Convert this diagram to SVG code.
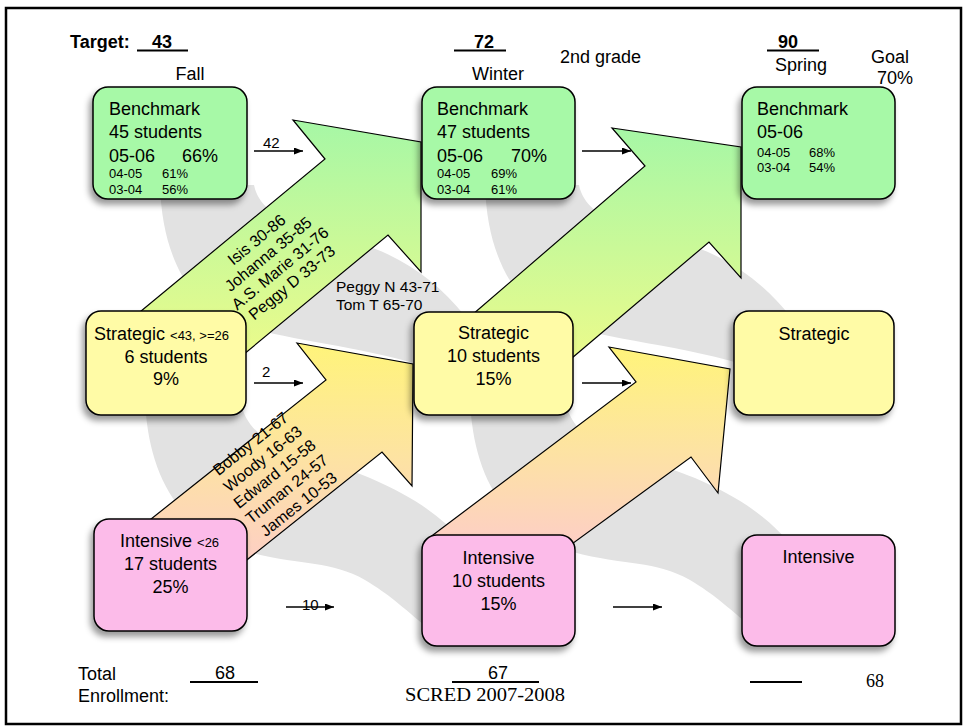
<svg xmlns="http://www.w3.org/2000/svg" width="966" height="727" viewBox="0 0 966 727">
  <style>
    text { font-family: "Liberation Sans", Arial, sans-serif; fill: #000; }
    .serif { font-family: "Liberation Serif", "Times New Roman", serif; }
    .t18 { font-size: 18px; }
    .t16 { font-size: 16px; }
    .t15 { font-size: 15px; }
    .t13 { font-size: 13px; }
    .b { font-weight: bold; }
    .mid { text-anchor: middle; }
    .box { stroke: #000; stroke-width: 1.5; filter: url(#shadow); }
    .green { fill: #a7f9a7; }
    .yellow { fill: #fffba6; }
    .pink { fill: #fcbbe9; }
    .band { fill: #e2e2e2; stroke: none; }
    .big { stroke: #000; stroke-width: 1.2; stroke-linejoin: miter; }
    .rule { stroke: #000; stroke-width: 2; }
    .flow { stroke: #000; stroke-width: 1.3; fill: none; marker-end: url(#head); }
  </style>
  <defs>
    <filter id="shadow" x="-15%" y="-15%" width="130%" height="140%">
      <feDropShadow dx="-3" dy="5" stdDeviation="3" flood-color="#000" flood-opacity="0.4"/>
    </filter>
    <linearGradient id="gradGreen" x1="0" y1="0" x2="0" y2="1">
      <stop offset="0" stop-color="#a6f7a6"/>
      <stop offset="1" stop-color="#eefb8a"/>
    </linearGradient>
    <linearGradient id="gradWarm" x1="0" y1="0" x2="0" y2="1">
      <stop offset="0" stop-color="#fff47a"/>
      <stop offset="0.5" stop-color="#fde3a2"/>
      <stop offset="1" stop-color="#fdcdc8"/>
    </linearGradient>
    <marker id="head" markerUnits="userSpaceOnUse" viewBox="0 0 9 7" refX="9" refY="3.5" markerWidth="9" markerHeight="7" orient="auto">
      <path d="M0,0 L9,3.5 L0,7 Z" fill="#000"/>
    </marker>
    <!-- curved gray bands: one level down to the next column -->
    <path id="bandUpper" d="M160,185 C162,250 185,300 230,322 C280,340 360,345 430,368 L470,368 L465,316 C440,285 410,262 373,248 C320,228 262,225 254,185 Z"/>
    <path id="bandLower" d="M145,400 C148,470 175,530 248,552 C300,566 330,560 365,580 C390,595 400,605 430,630 L470,630 L462,540 C440,515 410,495 370,478 C300,450 250,450 240,400 Z"/>
  </defs>

  <rect x="0" y="0" width="966" height="727" fill="#fff"/>
  <rect x="6" y="8" width="955" height="716" fill="none" stroke="#000" stroke-width="2.5"/>

  <g id="connectors">
    <g id="bands">
      <use href="#bandUpper" class="band"/>
      <use href="#bandUpper" class="band" transform="translate(325,0)"/>
      <use href="#bandLower" class="band"/>
      <use href="#bandLower" class="band" transform="translate(325,0)"/>
    </g>
    <g id="big-arrows">
      <polygon class="big" fill="url(#gradGreen)" points="129,321 325,159 293,120 421,142 421,272 388,235 232,364"/>
      <polygon class="big" fill="url(#gradGreen)" points="465,321 645,166 612,128 741,147 741,278 709,242 559,369"/>
      <polygon class="big" fill="url(#gradWarm)" points="141,527 326,380 297,343 413,364 412,486 382,452 233,571"/>
      <polygon class="big" fill="url(#gradWarm)" points="425,541 636,382 609,347 730,369 718,493 691,457 561,552"/>
    </g>
    <g id="small-arrows">
      <line class="flow" x1="254" y1="151" x2="303" y2="151"/>
      <line class="flow" x1="582" y1="151" x2="631" y2="151"/>
      <line class="flow" x1="254" y1="383" x2="303" y2="383"/>
      <line class="flow" x1="582" y1="383" x2="631" y2="383"/>
      <line class="flow" x1="286" y1="607" x2="334" y2="607"/>
      <line class="flow" x1="613" y1="607" x2="662" y2="607"/>
      <text class="t15" x="263" y="148">42</text>
      <text class="t15" x="262" y="377">2</text>
      <text class="t15" x="302" y="610">10</text>
    </g>
    <g id="moved-names">
      <g transform="translate(260,244) rotate(-39.5)">
        <text class="t16 mid" x="0" y="0">Isis 30-86</text>
        <text class="t16 mid" x="0" y="18.5">Johanna 35-85</text>
        <text class="t16 mid" x="0" y="37">A.S. Marie 31-76</text>
        <text class="t16 mid" x="0" y="55.5">Peggy D 33-73</text>
      </g>
      <g transform="translate(254,448) rotate(-38.5)">
        <text class="t16 mid" x="0" y="0">Bobby 21-67</text>
        <text class="t16 mid" x="0" y="19.3">Woody 16-63</text>
        <text class="t16 mid" x="0" y="38.6">Edward 15-58</text>
        <text class="t16 mid" x="0" y="57.9">Truman 24-57</text>
        <text class="t16 mid" x="0" y="77.2">James 10-53</text>
      </g>
      <text style="font-size:15.5px" x="336" y="292">Peggy N 43-71</text>
      <text style="font-size:15.5px" x="336" y="310">Tom T 65-70</text>
    </g>
  </g>

  <g id="headers">
    <text class="t18 b" x="70" y="48">Target:</text>
    <text class="t18 b" x="152" y="48">43</text>
    <line class="rule" x1="137" y1="50.5" x2="188" y2="50.5"/>
    <text class="t18 b" x="474" y="48">72</text>
    <line class="rule" x1="454" y1="50.5" x2="506" y2="50.5"/>
    <text class="t18 b" x="778" y="48">90</text>
    <line class="rule" x1="767" y1="50.5" x2="819" y2="50.5"/>
    <text class="t18 mid" x="190" y="80">Fall</text>
    <text class="t18 mid" x="498" y="80">Winter</text>
    <text class="t18" x="560" y="63">2nd grade</text>
    <text class="t18" x="775" y="71">Spring</text>
    <text class="t18" x="871" y="63">Goal</text>
    <text class="t18" x="877" y="84">70%</text>
  </g>

  <g id="fall-benchmark">
    <rect class="box green" x="93" y="87" width="154" height="112" rx="15"/>
    <text class="t18" x="109" y="115">Benchmark</text>
    <text class="t18" x="109" y="138">45 students</text>
    <text class="t18" x="109" y="162">05-06</text>
    <text class="t18" x="182" y="162">66%</text>
    <text class="t13" x="109" y="177.5">04-05</text>
    <text class="t13" x="162" y="177.5">61%</text>
    <text class="t13" x="109" y="193.5">03-04</text>
    <text class="t13" x="162" y="193.5">56%</text>
  </g>
  <g id="winter-benchmark">
    <rect class="box green" x="422" y="87" width="153" height="112" rx="15"/>
    <text class="t18" x="437" y="115">Benchmark</text>
    <text class="t18" x="437" y="138">47 students</text>
    <text class="t18" x="437" y="162">05-06</text>
    <text class="t18" x="511" y="162">70%</text>
    <text class="t13" x="437" y="177.5">04-05</text>
    <text class="t13" x="491" y="177.5">69%</text>
    <text class="t13" x="437" y="193.5">03-04</text>
    <text class="t13" x="491" y="193.5">61%</text>
  </g>
  <g id="spring-benchmark">
    <rect class="box green" x="742" y="87" width="153" height="112" rx="15"/>
    <text class="t18" x="757" y="115">Benchmark</text>
    <text class="t18" x="757" y="138">05-06</text>
    <text class="t13" x="757" y="157">04-05</text>
    <text class="t13" x="809" y="157">68%</text>
    <text class="t13" x="757" y="172">03-04</text>
    <text class="t13" x="809" y="172">54%</text>
  </g>

  <g id="fall-strategic">
    <rect class="box yellow" x="86" y="311" width="160" height="104" rx="15"/>
    <text class="t18" x="94" y="340">Strategic <tspan class="t13">&lt;43, &gt;=26</tspan></text>
    <text class="t18 mid" x="166" y="363">6 students</text>
    <text class="t18 mid" x="166" y="385">9%</text>
  </g>
  <g id="winter-strategic">
    <rect class="box yellow" x="414" y="312" width="159" height="103" rx="15"/>
    <text class="t18 mid" x="493.5" y="339">Strategic</text>
    <text class="t18 mid" x="493.5" y="362">10 students</text>
    <text class="t18 mid" x="493.5" y="385">15%</text>
  </g>
  <g id="spring-strategic">
    <rect class="box yellow" x="734" y="311" width="160" height="104" rx="15"/>
    <text class="t18 mid" x="814" y="340">Strategic</text>
  </g>

  <g id="fall-intensive">
    <rect class="box pink" x="94" y="519" width="153" height="112" rx="15"/>
    <text class="t18" x="120" y="547">Intensive <tspan class="t13">&lt;26</tspan></text>
    <text class="t18 mid" x="170.5" y="570">17 students</text>
    <text class="t18 mid" x="170.5" y="593">25%</text>
  </g>
  <g id="winter-intensive">
    <rect class="box pink" x="422" y="535" width="153" height="111" rx="15"/>
    <text class="t18 mid" x="498.5" y="564">Intensive</text>
    <text class="t18 mid" x="498.5" y="587">10 students</text>
    <text class="t18 mid" x="498.5" y="610">15%</text>
  </g>
  <g id="spring-intensive">
    <rect class="box pink" x="742" y="535" width="153" height="111" rx="15"/>
    <text class="t18 mid" x="818.5" y="563">Intensive</text>
  </g>

  <g id="footer">
    <text class="t18" x="78" y="680">Total</text>
    <text class="t18" x="78" y="702">Enrollment:</text>
    <text class="t18" x="215" y="679">68</text>
    <line class="rule" x1="190" y1="682" x2="258" y2="682"/>
    <text class="t18" x="488" y="679">67</text>
    <line class="rule" x1="452" y1="682" x2="539" y2="682"/>
    <line class="rule" x1="750" y1="682" x2="802" y2="682"/>
    <text class="serif" style="font-size:18px" x="866" y="687">68</text>
    <text class="serif" style="font-size:18px" x="405" y="701" textLength="160" lengthAdjust="spacingAndGlyphs">SCRED 2007-2008</text>
  </g>
</svg>
